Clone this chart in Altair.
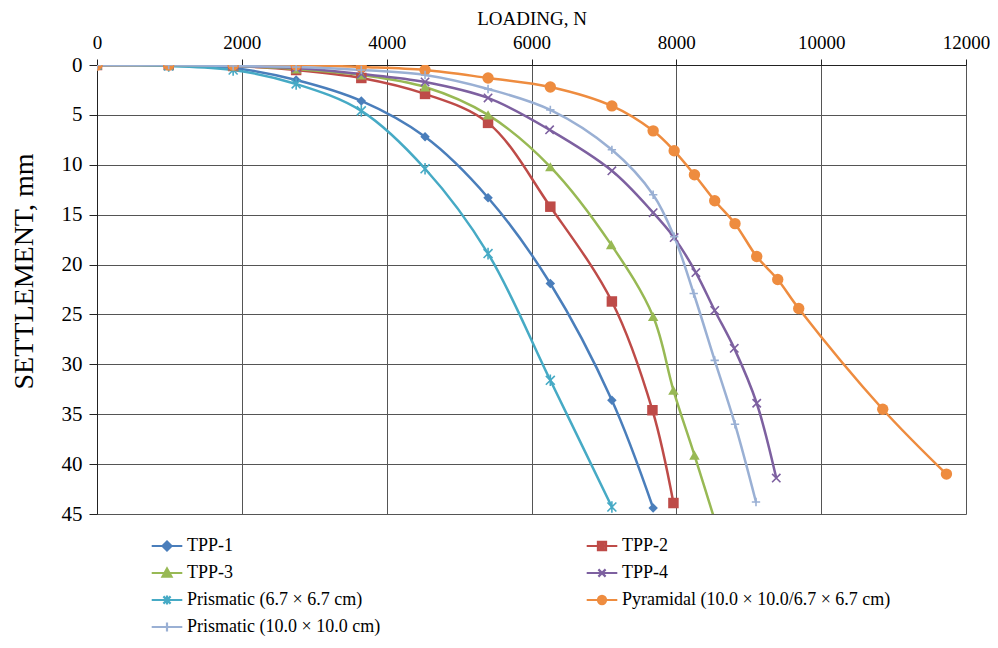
import altair as alt
import pandas as pd

series_names = [
    "TPP-1",
    "TPP-2",
    "TPP-3",
    "TPP-4",
    "Prismatic (6.7 × 6.7 cm)",
    "Pyramidal (10.0 × 10.0/6.7 × 6.7 cm)",
    "Prismatic (10.0 × 10.0 cm)",
]
series_colors = ["#4A7EBB", "#BE4B48", "#98B954", "#7D60A0", "#46AAC5", "#EE8C3F", "#9AB0D4"]

tpp1_load = [0, 990, 1880, 2750, 3650, 4530, 5400, 6260, 7110, 7680]
tpp1_settle = [0, 0, 0.3, 1.5, 3.6, 7.2, 13.3, 21.9, 33.6, 44.4]

tpp2_load = [0, 990, 1880, 2750, 3650, 4530, 5400, 6260, 7110, 7670, 7960]
tpp2_settle = [0, 0, 0.1, 0.5, 1.3, 2.9, 5.8, 14.2, 23.7, 34.6, 43.9]

tpp3_load = [0, 990, 1880, 2750, 3650, 4530, 5400, 6260, 7100, 7680, 7960, 8250, 8560]
tpp3_settle = [0, 0, 0.1, 0.4, 1.0, 2.2, 5.0, 10.2, 18.0, 25.2, 32.6, 39.1, 46.3]

tpp4_load = [0, 990, 1880, 2750, 3650, 4530, 5400, 6250, 7110, 7680, 7970, 8270, 8530, 8800, 9110, 9380]
tpp4_settle = [0, 0, 0.1, 0.3, 0.9, 1.7, 3.3, 6.5, 10.6, 14.8, 17.3, 20.8, 24.6, 28.4, 33.9, 41.4]

prism67_load = [0, 990, 1880, 2750, 3650, 4530, 5400, 6260, 7110]
prism67_settle = [0, 0.1, 0.5, 1.9, 4.6, 10.4, 18.9, 31.6, 44.3]

pyramid_load = [0, 990, 1880, 2750, 3650, 4530, 5400, 6260, 7110, 7680, 7970, 8250, 8530, 8810, 9110, 9400, 9690, 10850, 11730]
pyramid_settle = [0, 0, 0, 0, 0.2, 0.5, 1.3, 2.2, 4.1, 6.6, 8.6, 11.0, 13.6, 15.9, 19.2, 21.5, 24.4, 34.5, 41.0]

prism10_load = [0, 990, 1880, 2750, 3650, 4530, 5400, 6260, 7110, 7680, 7970, 8240, 8530, 8810, 9100]
prism10_settle = [0, 0, 0.1, 0.2, 0.5, 1.0, 2.4, 4.5, 8.5, 13.0, 17.2, 22.9, 29.6, 36.0, 43.8]

x_ticks = [0, 2000, 4000, 6000, 8000, 10000, 12000]
y_ticks = [0, 5, 10, 15, 20, 25, 30, 35, 40, 45]

all_loads = [tpp1_load, tpp2_load, tpp3_load, tpp4_load, prism67_load, pyramid_load, prism10_load]
all_settles = [tpp1_settle, tpp2_settle, tpp3_settle, tpp4_settle, prism67_settle, pyramid_settle, prism10_settle]

rows = []
for name, xs, ys in zip(series_names, all_loads, all_settles):
    for xv, yv in zip(xs, ys):
        rows.append({"series": name, "load": xv, "settlement": yv})
df = pd.DataFrame(rows)

# marker styles on the plot: (shape, filled, size)
marker_shapes = [
    ("M0,-1L1,0L0,1L-1,0Z", True, 90),
    ("square", True, 110),
    ("triangle-up", True, 110),
    ("M-1,-1L1,1M-1,1L1,-1", False, 70),
    ("M-1,-1L1,1M-1,1L1,-1M0,-1.3L0,1.3", False, 80),
    ("circle", True, 130),
    ("M-1,0L1,0M0,-1L0,1", False, 70),
]
# legend symbols: a line segment with the marker drawn in strokes
LINE = "M-3.4,0H3.4"
legend_shapes = [
    LINE + "M0,-1L1,0L0,1L-1,0ZM0,-0.45L0.45,0L0,0.45L-0.45,0Z",
    LINE + "M-0.9,-0.9H0.9V0.9H-0.9ZM-0.4,-0.4H0.4V0.4H-0.4Z",
    LINE + "M0,-1L1,0.8H-1ZM0,-0.2L0.4,0.5H-0.4Z",
    LINE + "M-0.8,-0.8L0.8,0.8M-0.8,0.8L0.8,-0.8",
    LINE + "M-0.8,-0.8L0.8,0.8M-0.8,0.8L0.8,-0.8M0,-1L0,1",
    LINE + "M-0.9,0A0.9,0.9 0 1,0 0.9,0A0.9,0.9 0 1,0 -0.9,0ZM-0.4,0A0.4,0.4 0 1,0 0.4,0A0.4,0.4 0 1,0 -0.4,0Z",
    LINE + "M0,-1L0,1",
]

FONT = "Liberation Serif"

x_enc = alt.X(
    "load:Q",
    scale=alt.Scale(domain=[0, 12000], nice=False, zero=False),
    axis=alt.Axis(
        orient="top",
        values=x_ticks,
        format="d",
        title="LOADING, N",
        titleFont=FONT,
        titleFontSize=19,
        titleFontWeight="normal",
        titleColor="black",
        titlePadding=5,
        labelFont=FONT,
        labelFontSize=19,
        labelColor="black",
        labelPadding=7,
        tickSize=6,
        tickColor="#222",
        domainColor="#222",
        gridColor="#555",
        labelFlush=False,
    ),
)
y_enc = alt.Y(
    "settlement:Q",
    scale=alt.Scale(domain=[0, 45], reverse=True, nice=False, zero=False),
    axis=alt.Axis(
        values=y_ticks,
        title="SETTLEMENT, mm",
        titleFont=FONT,
        titleFontSize=28,
        titleFontWeight="normal",
        titleColor="black",
        titleBaseline="middle",
        titleX=-73,
        titleY=206,
        labelFont=FONT,
        labelFontSize=21,
        labelColor="black",
        labelPadding=7,
        tickSize=8,
        tickColor="#222",
        domainColor="#222",
        gridColor="#555",
    ),
)

layers = []
# one line layer and one marker layer per series, with its own colour
for name, col in zip(series_names, series_colors):
    base = alt.Chart(df).transform_filter(alt.datum.series == name)
    layers.append(
        base.mark_line(interpolate="catmull-rom", strokeWidth=2.5, color=col, clip=True).encode(x=x_enc, y=y_enc)
    )
for name, col, (shp, filled, size) in zip(series_names, series_colors, marker_shapes):
    base = alt.Chart(df).transform_filter(alt.datum.series == name)
    if filled:
        mk = base.mark_point(shape=shp, filled=True, fill=col, size=size, opacity=1, strokeWidth=0, clip=True)
    else:
        mk = base.mark_point(shape=shp, filled=False, stroke=col, size=size, opacity=1, strokeWidth=1.6, clip=True)
    layers.append(mk.encode(x=x_enc, y=y_enc))

leg = alt.Legend(
    title=None,
    orient="none",
    direction="horizontal",
    legendX=61,
    legendY=472,
    columns=2,
    columnPadding=201,
    rowPadding=9,
    labelFont=FONT,
    labelFontSize=18,
    labelColor="black",
    labelOffset=11,
    symbolSize=81,
    symbolStrokeWidth=2.2,
    labelLimit=400,
)

# legend-only layer: points of size 0, so only the legend symbols are seen
legend_layer = alt.Chart(df).mark_point(filled=False, size=0, strokeWidth=0, opacity=1).encode(
    x=x_enc,
    y=y_enc,
    color=alt.Color("series:N", scale=alt.Scale(domain=series_names, range=series_colors), legend=leg),
    shape=alt.Shape("series:N", scale=alt.Scale(domain=series_names, range=legend_shapes), legend=leg),
)
layers.append(legend_layer)

chart = (
    alt.layer(*layers)
    .properties(
        width=869,
        height=449,
        autosize="none",
        padding={"left": 89, "top": 57, "right": 24, "bottom": 122},
        background="white",
    )
    .configure_view(stroke=None)
)

chart.save("out.html", embed_options={"renderer": "svg", "actions": False})
